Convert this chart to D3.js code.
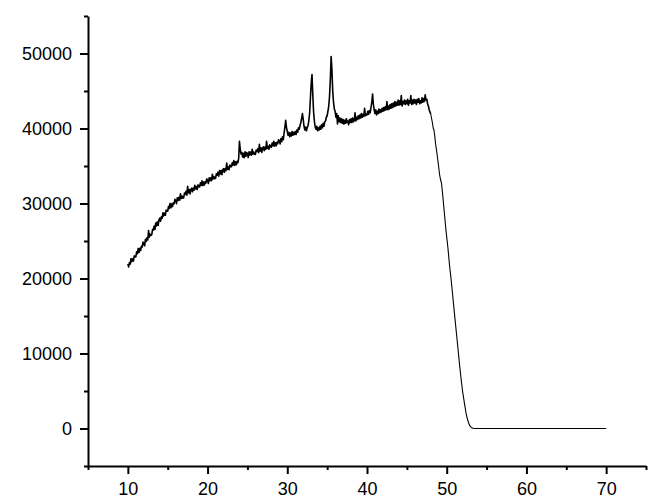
<!DOCTYPE html>
<html>
<head>
<meta charset="utf-8">
<script src="https://cdn.jsdelivr.net/npm/d3@7"></script>
<style>
  body { margin: 0; background: #fff; }
  text { font-family: "Liberation Sans", Arial, sans-serif; }
</style>
</head>
<body>
<div id="chart"></div>
<script>
// scan 10.0 .. 48.0 deg, step 0.1
const scanStart = 10;
const scanStep = 0.1;
const intensity = [
  21950, 21540, 22130, 21920, 22660, 22250, 22640, 22330, 23020, 22860,
  22900, 23560, 23310, 24010, 23470, 24030, 23730, 24290, 24190, 24850,
  24700, 24360, 25220, 24930, 25440, 25150, 26400, 25520, 25930, 25740,
  25850, 26560, 26470, 26980, 26540, 27400, 27010, 27570, 27080, 27790,
  28050, 27640, 28230, 28020, 28760, 28350, 28740, 28430, 29120, 28960,
  29000, 29620, 29340, 30010, 29430, 29950, 29600, 30100, 29950, 30550,
  30400, 29980, 30760, 30390, 30820, 30450, 31280, 30660, 30990, 30720,
  30750, 31380, 31210, 31640, 31120, 32300, 31410, 31870, 31280, 31890,
  32050, 31560, 32070, 31780, 32440, 31950, 32260, 31870, 32480, 32240,
  32200, 32760, 32420, 33030, 32390, 32850, 32460, 32920, 32730, 33290,
  33100, 32660, 33420, 33030, 33440, 33050, 33880, 33260, 33590, 33320,
  33350, 33960, 33770, 34180, 33640, 34400, 33930, 34410, 33840, 34470,
  34650, 34160, 34670, 34380, 35400, 34550, 34880, 34510, 35140, 34920,
  34900, 35460, 35120, 35730, 35090, 35550, 35160, 35620, 35430, 36000,
  38300, 37200, 36600, 36800, 36200, 36700, 36100, 36900, 36300, 36800,
  36600, 36140, 36880, 36470, 36860, 36450, 37240, 36580, 36870, 36560,
  36550, 37140, 36930, 37320, 36760, 37900, 36990, 37430, 36820, 37410,
  37550, 37040, 37530, 37220, 38300, 37350, 37640, 37230, 37820, 37560,
  37500, 38050, 37700, 38300, 37650, 38100, 37700, 38150, 37950, 38500,
  38400, 37950, 38650, 38250, 38900, 38500, 39400, 40200, 41100, 40100,
  39600, 39100, 39500, 38900, 39400, 39000, 39600, 39100, 39500, 39200,
  39600, 39200, 39800, 39500, 40100, 39900, 40400, 40800, 41300, 42000,
  41200, 40300, 39800, 40200, 39700, 40100, 40400, 41000, 42000, 44000,
  46000, 47200, 44500, 42200, 41000, 40200, 39900, 40300, 39700, 40100,
  39800, 40300, 39900, 40500, 40100, 40700, 40300, 40900, 41000, 41500,
  41700, 42300, 43000, 44300, 46500, 49600, 47800, 45000, 43500, 42600,
  42300, 41500, 42000, 40600, 41700, 40900, 41400, 40800, 41300, 40700,
  41200, 40600, 41100, 40700, 41300, 40800, 41000, 40500, 41200, 40800,
  41300, 40800, 41400, 40900, 41100, 42100, 41000, 41500, 41200, 41700,
  41300, 41800, 41400, 42000, 41500, 41900, 41600, 42700, 41700, 41900,
  41800, 42300, 41900, 42400, 42100, 42800, 43500, 44600, 43200, 42500,
  42000, 42500, 41800, 42300, 42000, 42600, 42100, 42500, 42200, 42700,
  42300, 42800, 42400, 42900, 42500, 43600, 42500, 43000, 42600, 43200,
  42700, 43300, 42800, 43400, 42900, 43600, 43000, 43500, 43100, 43800,
  43100, 43700, 43200, 44400, 43000, 43600, 43300, 43800, 43200, 43700,
  43300, 43900, 43100, 43700, 43400, 44400, 43200, 43800, 43300, 43900,
  43400, 43800, 43200, 43900, 43500, 44000, 43300, 43700, 43400, 44100,
  43500, 44000, 43600, 44500, 43800, 43900, 43300, 43000, 42500, 42200,
  41900
];

// fall-off and flat tail
const tailAngle = [48.0, 48.2, 48.3, 48.4, 48.5, 48.6, 48.8, 49.0, 49.1, 49.2, 49.35, 49.5, 49.7, 49.9,
  50.15, 50.35, 50.57, 50.8, 50.98, 51.2, 51.4, 51.6, 51.83, 52.0, 52.24, 52.45, 52.66, 52.85,
  53.08, 53.3, 53.5, 60, 70];
const tailIntensity = [41900, 40800, 40100, 39800, 39000, 38000, 36500, 34800, 33900, 33300, 32700, 31100, 28800, 26500,
  24100, 21800, 19700, 17200, 15250, 12900, 10800, 8600, 6360, 4900, 3250, 1900, 1030, 450,
  130, 30, 0, 0, 0];

const xTicks = [10, 20, 30, 40, 50, 60, 70];
const xMinorTicks = [5, 15, 25, 35, 45, 55, 65, 75];
const yTicks = [0, 10000, 20000, 30000, 40000, 50000];
const yMinorTicks = [-5000, 5000, 15000, 25000, 35000, 45000, 55000];

const svgWidth = 652;
const svgHeight = 504;

const svg = d3.select("#chart")
  .append("svg")
  .attr("width", svgWidth)
  .attr("height", svgHeight);

const x = d3.scaleLinear().domain([5, 75]).range([88, 646]);
const y = d3.scaleLinear().domain([-5000, 55000]).range([466, 16]);

const scanPoints = intensity.map((v, i) => [scanStart + i * scanStep, v]);
const tailPoints = tailAngle.map((a, i) => [a, tailIntensity[i]]);

const line = d3.line()
  .x(d => x(d[0]))
  .y(d => y(d[1]));

// noisy part drawn a bit heavier, like the dense trace in the original
svg.append("path")
  .datum(scanPoints)
  .attr("fill", "none")
  .attr("stroke", "#000")
  .attr("stroke-width", 1.6)
  .attr("stroke-linejoin", "round")
  .attr("d", line);

svg.append("path")
  .datum(tailPoints)
  .attr("fill", "none")
  .attr("stroke", "#000")
  .attr("stroke-width", 1.1)
  .attr("stroke-linejoin", "round")
  .attr("d", line);

// minor ticks first, majors with labels on top
svg.append("g")
  .attr("transform", `translate(0, ${y(-5000)})`)
  .call(d3.axisBottom(x).tickValues(xMinorTicks).tickSize(4).tickSizeOuter(0).tickFormat(""))
  .call(g => g.select(".domain").remove());

svg.append("g")
  .attr("transform", `translate(${x(5)}, 0)`)
  .call(d3.axisLeft(y).tickValues(yMinorTicks).tickSize(4).tickSizeOuter(0).tickFormat(""))
  .call(g => g.select(".domain").remove());

svg.append("g")
  .attr("transform", `translate(0, ${y(-5000)})`)
  .call(d3.axisBottom(x).tickValues(xTicks).tickSize(8).tickSizeOuter(0).tickPadding(8).tickFormat(d3.format("d")));

svg.append("g")
  .attr("transform", `translate(${x(5)}, 0)`)
  .call(d3.axisLeft(y).tickValues(yTicks).tickSize(8).tickSizeOuter(0).tickPadding(8).tickFormat(d3.format("d")));

svg.selectAll(".domain").attr("stroke", "#000").attr("stroke-width", 2);
svg.selectAll(".tick line").attr("stroke", "#000").attr("stroke-width", 2);
svg.selectAll(".tick text")
  .attr("fill", "#000")
  .style("font-size", "18px")
  .style("font-family", "'Liberation Sans', Arial, sans-serif");
</script>
</body>
</html>
